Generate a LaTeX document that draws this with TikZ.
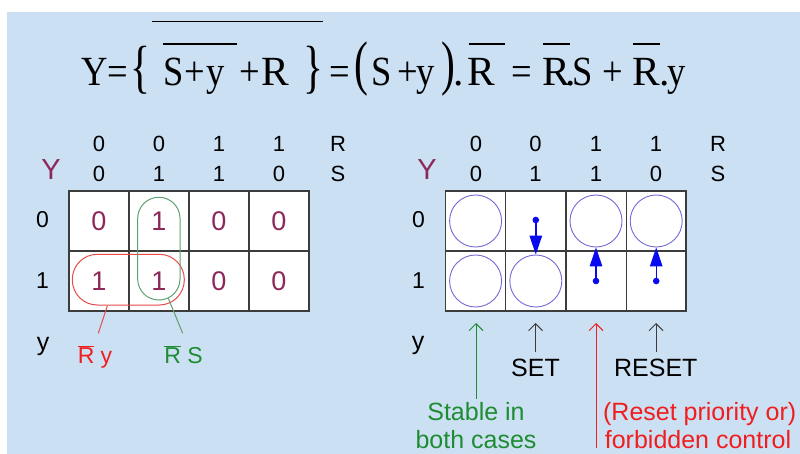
\documentclass[tikz,border=0pt]{standalone}
\usepackage{fontspec}
\setmainfont{Liberation Sans}
\newfontfamily\eqserif{Liberation Serif}
\usetikzlibrary{arrows.meta}
\definecolor{bgblue}{RGB}{204,224,243}
\definecolor{kmaroon}{RGB}{140,40,90}
\definecolor{gridc}{RGB}{60,60,60}
\definecolor{circc}{RGB}{115,105,215}
\definecolor{arrblue}{RGB}{10,10,240}
\definecolor{lblred}{RGB}{240,30,30}
\definecolor{lblgreen}{RGB}{30,140,50}
\definecolor{ovred}{RGB}{230,75,75}
\definecolor{ovgreen}{RGB}{95,160,115}
\newcommand\nrw[1]{\scalebox{0.88}[1]{#1}}
\begin{document}
\begin{tikzpicture}[x=1pt,y=-1pt,
  eq/.style={anchor=base west,inner sep=0,font=\eqserif\fontsize{41.5}{45}\selectfont},
  bigdelim/.style={anchor=center,inner sep=0,font=\eqserif\fontsize{41.5}{45}\selectfont},
  eqbar/.style={line width=1.8pt},
  hdr/.style={anchor=center,inner sep=0,font=\fontsize{22}{25}\selectfont},
  ylab/.style={anchor=center,inner sep=0,text=kmaroon,font=\fontsize{29}{32}\selectfont},
  rowlab/.style={anchor=center,inner sep=0,font=\fontsize{23}{26}\selectfont},
  ysmall/.style={anchor=center,inner sep=0,font=\fontsize{25}{28}\selectfont},
  cell/.style={anchor=center,inner sep=0,text=kmaroon,font=\fontsize{27}{30}\selectfont},
  grid/.style={draw=gridc,line width=1.3pt},
  stab/.style={circle,draw=circc,line width=0.9pt,minimum size=52pt,inner sep=0},
  bluearr/.style={draw=arrblue,line width=1.4pt,-{Triangle[length=19pt,width=12.5pt]}},
  bdot/.style={fill=arrblue},
  note/.style={anchor=base,inner sep=0,font=\fontsize{25}{30}\selectfont},
  pointer/.style={line width=1pt,-{Straight Barb[length=7pt,width=14pt]}},
  lbl/.style={anchor=base,inner sep=0,font=\fontsize{23}{26}\selectfont}
]
% background
\useasboundingbox (0,0) rectangle (800,454);
\fill[white] (0,0) rectangle (800,454);
\fill[bgblue] (7,12) rectangle (800,454);

% ---------- equation ----------
\node[eq] (e1) at (81.5,85.7) {\nrw{Y}};
\node[eq] (e2) at (107.5,85.7) {\nrw{=}};
\node[bigdelim] (b1) at (140.8,70) {\scalebox{1}[1.4]{\{}};
\node[eq] (e3) at (163.5,85.7) {\nrw{S}};
\node[eq] (e4) at (184.5,85.7) {\nrw{+}};
\node[eq] (e5) at (206.5,85.7) {\nrw{y}};
\node[eq] (e6) at (239.5,85.7) {\nrw{+}};
\node[eq] (e7) at (261.3,85.7) {R};
\node[bigdelim] (b2) at (313.3,70) {\scalebox{1}[1.4]{\}}};
\node[eq] (e8) at (329.3,85.7) {\nrw{=}};
\node[bigdelim] (p1) at (361.7,69) {\scalebox{1}[1.45]{(}};
\node[eq] (e9) at (371,85.7) {\nrw{S}};
\node[eq] (e10) at (397.5,85.7) {\nrw{+}};
\node[eq] (e11) at (416.5,85.7) {\nrw{y}};
\node[bigdelim] (p2) at (448.3,69) {\scalebox{1}[1.45]{)}};
\node[eq] (e12) at (453,85.7) {.};
\node[eq] (e13) at (467.6,85.7) {R};
\node[eq] (e14) at (511,85.7) {\nrw{=}};
\node[eq] (e15) at (542.6,85.7) {R};
\node[eq] (e16) at (565,85.7) {.};
\node[eq] (e17) at (572.5,85.7) {\nrw{S}};
\node[eq] (e18) at (602.5,85.7) {\nrw{+}};
\node[eq] (e19) at (632.6,85.7) {R};
\node[eq] (e20) at (659,85.7) {.};
\node[eq] (e21) at (667,85.7) {\nrw{y}};
\draw[line width=1.4pt] (151.7,21.7) -- (323.3,21.7);
\draw[eqbar] (163,44.3) -- (236.7,44.3);
\draw[eqbar] (469,44.3) -- (505,44.3);
\draw[eqbar] (543,44.3) -- (570,44.3);
\draw[eqbar] (633,44.3) -- (660,44.3);

% ---------- left Karnaugh map ----------
\node[hdr] (lh1) at (99,143.5) {0};
\node[hdr] (lh2) at (159,143.5) {0};
\node[hdr] (lh3) at (219,143.5) {1};
\node[hdr] (lh4) at (279,143.5) {1};
\node[hdr] (lhR) at (338,143.5) {R};
\node[hdr] (ls1) at (99,173.5) {0};
\node[hdr] (ls2) at (159,173.5) {1};
\node[hdr] (ls3) at (219,173.5) {1};
\node[hdr] (ls4) at (279,173.5) {0};
\node[hdr] (lsS) at (338,173.5) {S};
\node[ylab] (lY) at (51,169.2) {Y};
\node[rowlab] (lr0) at (42.5,219.5) {0};
\node[rowlab] (lr1) at (42.5,281) {1};
\node[ysmall] (ly) at (43,346) {y};

\fill[white] (69,191) rectangle (309,311);
\draw[grid] (69,191) rectangle (309,311);
\draw[grid] (69,251) -- (309,251);
\draw[grid] (129,191) -- (129,311);
\draw[grid] (189,191) -- (189,311);
\draw[grid] (249,191) -- (249,311);

\node[cell] (k00) at (99,221.2) {0};
\node[cell] (k01) at (159,221.2) {1};
\node[cell] (k02) at (219,221.2) {0};
\node[cell] (k03) at (279,221.2) {0};
\node[cell] (k10) at (99,281) {1};
\node[cell] (k11) at (159,281) {1};
\node[cell] (k12) at (219,281) {0};
\node[cell] (k13) at (279,281) {0};

\draw[ovred,line width=1pt,rounded corners=25pt] (72.3,254.3) rectangle (184.3,305);
\draw[ovgreen,line width=1pt,rounded corners=21pt] (137.7,197.3) rectangle (180,300);

\node[lbl,text=lblred] (lRy) at (95,363.3) {$\overline{\mbox{R}}$ y};
\node[lbl,text=lblgreen] (lRS) at (183.5,363.3) {$\overline{\mbox{R}}$ S};
\coordinate (ra) at (107.3,306);
\coordinate (rb) at (98.3,333.3);
\coordinate (ga) at (168.3,298.3);
\coordinate (gb) at (182.7,333.3);
\draw[ovred,line width=1pt] (ra) -- (rb);
\draw[ovgreen,line width=1pt] (ga) -- (gb);

% ---------- right Karnaugh map ----------
\node[hdr] (rh1) at (476,143.5) {0};
\node[hdr] (rh2) at (535.5,143.5) {0};
\node[hdr] (rh3) at (596,143.5) {1};
\node[hdr] (rh4) at (656,143.5) {1};
\node[hdr] (rhR) at (718,143.5) {R};
\node[hdr] (rs1) at (476,173.5) {0};
\node[hdr] (rs2) at (535.5,173.5) {1};
\node[hdr] (rs3) at (596,173.5) {1};
\node[hdr] (rs4) at (656,173.5) {0};
\node[hdr] (rsS) at (718,173.5) {S};
\node[ylab] (rY) at (427,169.2) {Y};
\node[rowlab] (rr0) at (418.5,220) {0};
\node[rowlab] (rr1) at (418.5,281) {1};
\node[ysmall] (ry) at (418,345) {y};

\fill[white] (445.5,191) rectangle (686,311);
\draw[grid] (445.5,191) rectangle (686,311);
\draw[grid] (445.5,251) -- (686,251);
\draw[grid] (505.7,191) -- (505.7,311);
\draw[grid] (566,191) -- (566,311);
\draw[grid] (626.2,191) -- (626.2,311);

\node[stab] (c00) at (475.6,221) {};
\node[stab] (c10) at (475.6,281) {};
\node[stab] (c11) at (535.8,281) {};
\node[stab] (c02) at (596,221) {};
\node[stab] (c03) at (656.2,221) {};

\coordinate (d1) at (535.8,220);
\coordinate (d2) at (596,281);
\coordinate (d3) at (656.2,281);
\fill[bdot] (d1) circle (3.3pt);
\fill[bdot] (d2) circle (3.3pt);
\fill[bdot] (d3) circle (3.3pt);
\draw[bluearr] (d1) -- (c11.north);
\draw[bluearr] (d2) -- (c02.south);
\draw[bluearr] (d3) -- (c03.south);

% ---------- annotations ----------
\coordinate (gt) at (476,323);
\coordinate (gs) at (476,398.5);
\coordinate (st) at (535.5,323);
\coordinate (ss) at (535.5,352);
\coordinate (rt) at (596,323);
\coordinate (rs) at (596,448);
\coordinate (xt) at (656,323);
\coordinate (xs) at (656,352);
\draw[pointer,draw=lblgreen] (gs) -- (gt);
\draw[pointer,draw=gridc] (ss) -- (st);
\draw[pointer,draw=lblred] (rs) -- (rt);
\draw[pointer,draw=gridc] (xs) -- (xt);

\node[note] (tset) at (535.5,376) {SET};
\node[note] (treset) at (655.8,376) {RESET};
\node[note,text=lblgreen] (tst1) at (476,420.5) {Stable in};
\node[note,text=lblgreen] (tst2) at (476,448.5) {both cases};
\node[note,text=lblred] (trp1) at (699.7,420.5) {(Reset priority or)};
\node[note,text=lblred] (trp2) at (698,448.5) {forbidden control};
\end{tikzpicture}
\end{document}
